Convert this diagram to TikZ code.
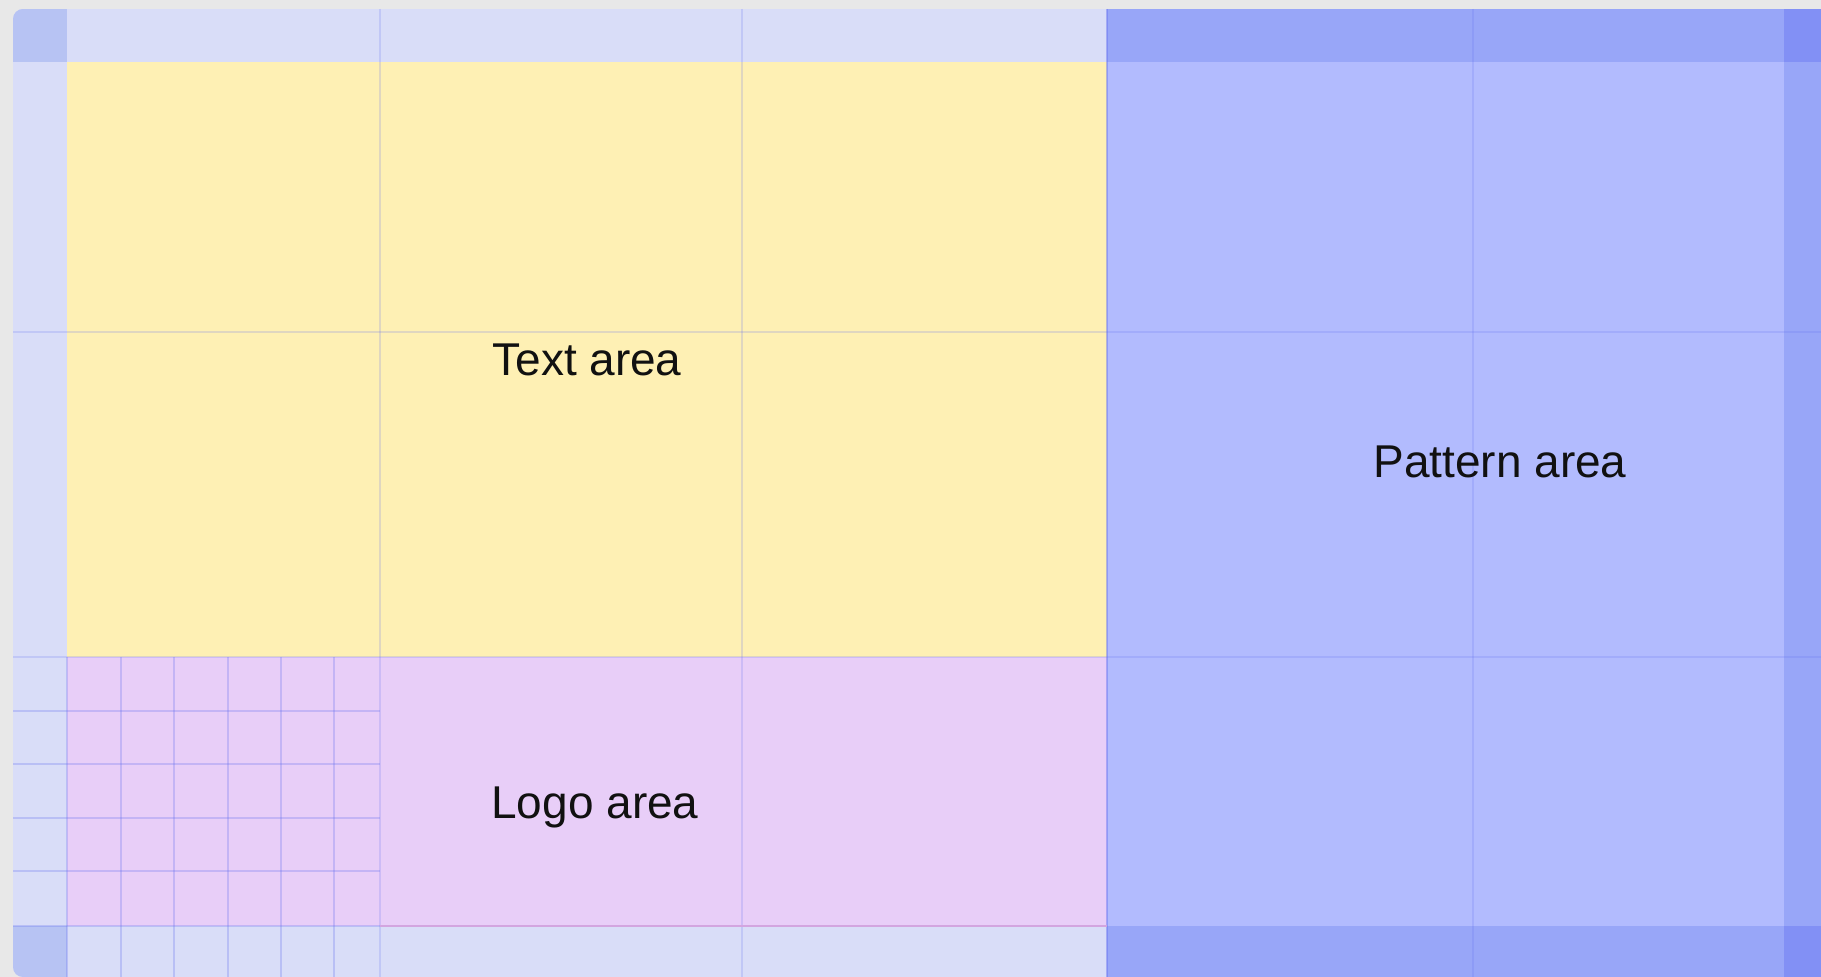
\documentclass[tikz,border=0pt]{standalone}
\usepackage{fontspec}
\setmainfont{Liberation Sans}
\definecolor{pagebg}{RGB}{232,232,232}
\definecolor{lightbar}{RGB}{217,221,248}
\definecolor{lightcorner}{RGB}{183,195,243}
\definecolor{textyellow}{RGB}{254,240,180}
\definecolor{logopink}{RGB}{232,206,248}
\definecolor{patternfill}{RGB}{178,187,254}
\definecolor{patternbar}{RGB}{152,166,248}
\definecolor{patterncorner}{RGB}{130,144,245}
\definecolor{gridblue}{RGB}{100,112,240}
\definecolor{labelink}{RGB}{17,17,17}
\tikzset{
  majorline/.style={draw=gridblue, draw opacity=0.2, line width=1.25pt},
  edgeline/.style={draw=gridblue, draw opacity=0.45, line width=1.1pt},
  minorline/.style={draw=gridblue, draw opacity=0.27, line width=1.4pt},
  arealabel/.style={anchor=base, text=labelink, inner sep=0pt, font=\fontsize{23}{27}\selectfont}
}
\begin{document}
\begin{tikzpicture}[x=0.5pt,y=-0.5pt]
\useasboundingbox (0,0) rectangle (1821,977);
\fill[pagebg] (0,0) rectangle (1821,977);
\begin{scope}
\clip[rounded corners=5pt] (13,9) rectangle (1860,977);
% left part
\fill[lightbar] (13,9) rectangle (1107,977);
\fill[lightcorner] (13,9) rectangle (67,62);
\fill[lightcorner] (13,926) rectangle (67,977);
\fill[textyellow] (67,62) rectangle (1107,657);
\fill[logopink] (67,657) rectangle (1107,926);
% pattern part
\fill[patternbar] (1107,9) rectangle (1860,977);
\fill[patternfill] (1107,62) rectangle (1784,926);
\fill[patterncorner] (1784,9) rectangle (1860,62);
\fill[patterncorner] (1784,926) rectangle (1860,977);
% major lines
\foreach \x in {380,742,1473} \draw[majorline] (\x,9) -- (\x,977);
\draw[edgeline] (1107,9) -- (1107,977);
\foreach \y in {332,657} \draw[majorline] (13,\y) -- (1860,\y);
\draw[draw=logopink!80!violet, line width=0.8pt] (380,926) -- (1107,926);
% logo grid
\foreach \y in {711,764,818,871,926} \draw[minorline] (13,\y) -- (380,\y);
\foreach \x in {67,121,174,228,281,334} \draw[minorline] (\x,657) -- (\x,977);
\end{scope}
\node[arealabel] (textarea) at (587,376) {Text area};
\node[arealabel] (patternarea) at (1500,478) {Pattern area};
\node[arealabel] (logoarea) at (595,819) {Logo area};
\end{tikzpicture}
\end{document}
